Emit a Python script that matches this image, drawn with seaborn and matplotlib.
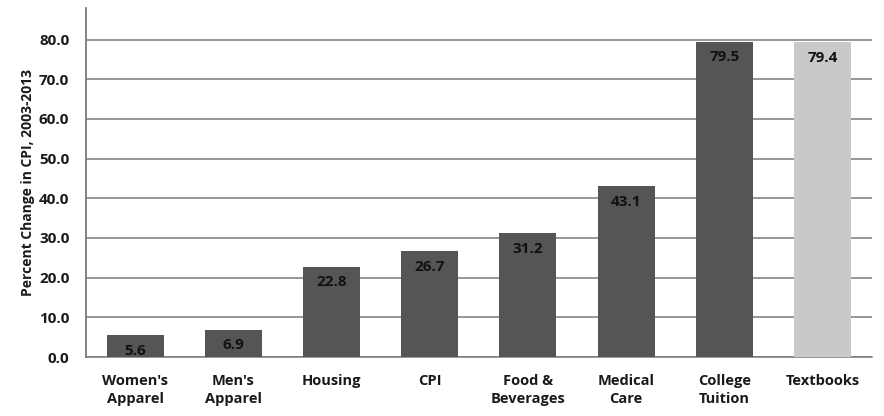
import matplotlib
matplotlib.use("Agg")
import matplotlib.pyplot as plt
import seaborn as sns
import pandas as pd

categories = ["Women's\nApparel", "Men's\nApparel", "Housing", "CPI",
              "Food &\nBeverages", "Medical\nCare", "College\nTuition", "Textbooks"]
values = [5.6, 6.9, 22.8, 26.7, 31.2, 43.1, 79.5, 79.4]
yticks = [0, 10, 20, 30, 40, 50, 60, 70, 80]

sns.set_theme(style="white")
plt.rcParams['font.family'] = ['Open Sans', 'DejaVu Sans']

df = pd.DataFrame({"category": categories, "value": values})
colors = ["#555555"] * 7 + ["#c9c9c9"]

fig = plt.figure(figsize=(8.84, 4.16), dpi=100)
ax = fig.add_axes([0.0973, 0.1418, 0.8887, 0.8392])

sns.barplot(data=df, x="category", y="value", hue="category", palette=colors,
            legend=False, width=0.58, saturation=1, linewidth=0, ax=ax, zorder=3)

ax.set_ylim(0, 88)
ax.set_yticks(yticks)
ax.set_yticklabels([f"{v:.1f}" for v in yticks], fontsize=11, fontweight="bold", color="#1a1a1a")
ax.yaxis.grid(True, color="#7a7a7a", linewidth=1.1, zorder=0)
ax.set_axisbelow(True)
for lbl in ax.get_xticklabels():
    lbl.set_fontsize(10.5)
    lbl.set_fontweight("bold")
    lbl.set_color("#1a1a1a")
    lbl.set_linespacing(1.35)
ax.tick_params(axis="x", pad=12, length=0)
ax.tick_params(axis="y", pad=12, length=0)
ax.set_xlabel("")
ax.set_ylabel("Percent Change in CPI, 2003-2013", fontsize=10, fontweight="bold",
              color="#1a1a1a", labelpad=3)

for s in ["top", "right"]:
    ax.spines[s].set_visible(False)
ax.spines["left"].set_color("#7a7a7a")
ax.spines["left"].set_linewidth(1.3)
ax.spines["bottom"].set_color("#7a7a7a")
ax.spines["bottom"].set_linewidth(1.1)

for patch, v in zip(ax.patches, values):
    x = patch.get_x() + patch.get_width() / 2
    ax.text(x, v - 2.2, f"{v:.1f}", ha="center", va="top", fontsize=11,
            fontweight="bold", color="#111111", zorder=4)

fig.savefig("out.png", dpi=100)
